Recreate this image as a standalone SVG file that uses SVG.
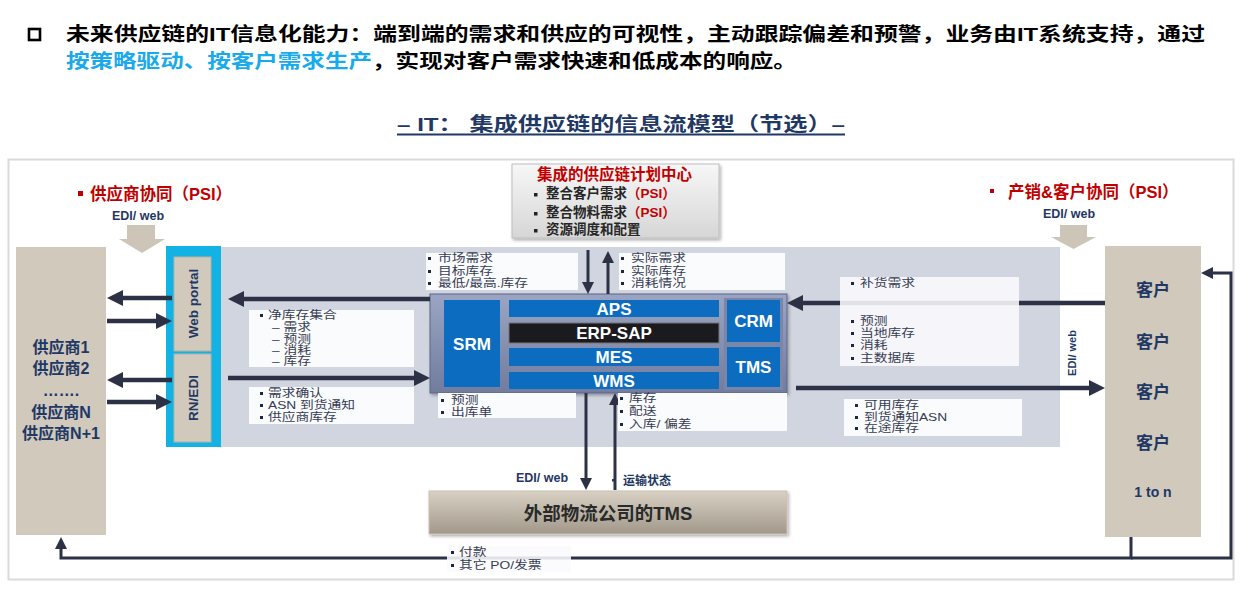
<svg xmlns="http://www.w3.org/2000/svg" width="1254" height="593" viewBox="0 0 1254 593">
<style>
text{font-family:"Liberation Sans","Noto Sans CJK SC",sans-serif}
.b{font-weight:bold}
.nv{fill:#1F3864}
.red{fill:#C00000}
.wt{fill:#fff;font-weight:bold;font-size:17px;text-anchor:middle}
.lb{font-size:11px;fill:#363C52}
.lbox{fill:#FAFBFD}
.lboxt{fill:#FAFBFD;fill-opacity:.88}
.bl{fill:#1E2740}
.conn{fill:none;stroke:#2C3145}
.thick{stroke-width:4.5}
.thin{stroke-width:3}
.blue{fill:#0C6CBF}
.beige{fill:#D0C9BC}
.edi{font-size:12.5px;font-weight:bold;fill:#1F3864}
</style>
<defs>
<marker id="ah" markerUnits="userSpaceOnUse" markerWidth="16" markerHeight="16" viewBox="0 0 16 16" refX="1" refY="8" orient="auto"><path d="M0,0 L16,8 L0,16 z" fill="#2C3145"/></marker>
<marker id="as" markerUnits="userSpaceOnUse" markerWidth="12" markerHeight="12" viewBox="0 0 12 12" refX="1" refY="6" orient="auto"><path d="M0,0 L12,6 L0,12 z" fill="#2C3145"/></marker>
<linearGradient id="gcore" x1="0" y1="0" x2="0" y2="1"><stop offset="0" stop-color="#9BA5C3"/><stop offset="1" stop-color="#717C9E"/></linearGradient>
<linearGradient id="gplan" x1="0" y1="0" x2="0" y2="1"><stop offset="0" stop-color="#F7F7F7"/><stop offset="1" stop-color="#D6D6D6"/></linearGradient>
<linearGradient id="gtms" x1="0" y1="0" x2="0" y2="1"><stop offset="0" stop-color="#D8D1C3"/><stop offset="1" stop-color="#A1988A"/></linearGradient>
<filter id="sh" x="-5%" y="-10%" width="115%" height="130%"><feDropShadow dx="1.5" dy="2" stdDeviation="1.5" flood-color="#000" flood-opacity=".3"/></filter>
</defs>
<rect width="1254" height="593" fill="#fff"/>

<g id="header">
<rect x="29" y="29" width="11" height="11" fill="none" stroke="#000" stroke-width="2.6"/>
<text x="66" y="41" class="b" font-size="19" fill="#000" textLength="1139" lengthAdjust="spacingAndGlyphs">未来供应链的IT信息化能力：端到端的需求和供应的可视性，主动跟踪偏差和预警，业务由IT系统支持，通过</text>
<text x="66" y="68" class="b" font-size="19" fill="#19AAEA" textLength="306" lengthAdjust="spacingAndGlyphs">按策略驱动、按客户需求生产</text>
<text x="372" y="68" class="b" font-size="19" fill="#000" textLength="425" lengthAdjust="spacingAndGlyphs">，实现对客户需求快速和低成本的响应。</text>
<text x="397" y="131" class="b nv" font-size="19" textLength="448" lengthAdjust="spacingAndGlyphs">– IT： 集成供应链的信息流模型（节选）–</text>
<line x1="397" y1="134.5" x2="845" y2="134.5" stroke="#1F3864" stroke-width="2"/>
</g>

<rect id="frame" x="8.5" y="159.5" width="1225" height="420" fill="none" stroke="#DADADA" stroke-width="2"/>

<g id="band"><rect x="221" y="247" width="839" height="200" fill="#D1D5E0"/></g>

<g id="supplier-collab">
<rect x="78" y="191" width="5" height="5" fill="#C00000"/>
<text x="90" y="199.5" class="b red" font-size="16.5">供应商协同（PSI）</text>
<text x="112" y="220" class="edi">EDI/ web</text>
<polygon points="127,225 155,225 155,239 165,239 142,253 119,239 127,239" fill="#CCC5B8"/>
</g>

<g id="customer-collab">
<rect x="990" y="189" width="4" height="4" fill="#C00000"/>
<text x="1008" y="197.5" class="b red" font-size="16.5">产销&amp;客户协同（PSI）</text>
<text x="1043" y="218" class="edi">EDI/ web</text>
<polygon points="1060,225 1087,225 1087,237 1096,237 1073.5,249 1051,237 1060,237" fill="#CCC5B8"/>
</g>

<g id="suppliers">
<rect x="16" y="247" width="90" height="288" class="beige"/>
<g class="b nv" font-size="16" text-anchor="middle">
<text x="61" y="353">供应商1</text>
<text x="61" y="374">供应商2</text>
<text x="61" y="396" font-family="Liberation Sans">…….</text>
<text x="61" y="418">供应商N</text>
<text x="61" y="439">供应商N+1</text>
</g>
</g>

<g id="portal">
<rect x="166" y="246" width="55" height="201" fill="#12B2E4"/>
<rect x="174" y="257" width="37" height="94" class="beige" stroke="#B9B1A2"/>
<rect x="174" y="354" width="37" height="88" class="beige" stroke="#B9B1A2"/>
<text transform="translate(192.5,303.5) rotate(-90)" text-anchor="middle" dy="5" class="b nv" font-size="13.5">Web portal</text>
<text transform="translate(192.5,398) rotate(-90)" text-anchor="middle" dy="5" class="b nv" font-size="13.5">RN/EDI</text>
</g>

<g id="plan-center" filter="url(#sh)">
<rect x="512" y="164" width="207" height="74" fill="url(#gplan)" stroke="#BDBDBD"/>
</g>
<g id="plan-center-text">
<text x="614.5" y="180" text-anchor="middle" class="b red" font-size="15.5">集成的供应链计划中心</text>
<rect x="534" y="193" width="3.5" height="3.5" fill="#222"/>
<rect x="534" y="212" width="3.5" height="3.5" fill="#222"/>
<rect x="534" y="229" width="3.5" height="3.5" fill="#222"/>
<g class="b" font-size="13.5" fill="#262626">
<text x="546" y="198">整合客户需求<tspan class="red">（PSI）</tspan></text>
<text x="546" y="217">整合物料需求<tspan class="red">（PSI）</tspan></text>
<text x="546" y="234">资源调度和配置</text>
</g>
</g>

<g id="core" filter="url(#sh)">
<rect x="430" y="294" width="357" height="99" fill="url(#gcore)" stroke="#5B6688"/>
</g>
<g id="core-modules">
<rect x="444" y="300" width="56" height="87" class="blue"/>
<text x="472" y="350" class="wt" font-size="18">SRM</text>
<rect x="509" y="300" width="210" height="17" class="blue"/>
<text x="614" y="314.5" class="wt">APS</text>
<rect x="509" y="323" width="210" height="20" fill="#1B1B1F" stroke="#777"/>
<text x="614" y="339" class="wt">ERP-SAP</text>
<rect x="509" y="348" width="210" height="18" class="blue"/>
<text x="614" y="363" class="wt">MES</text>
<rect x="509" y="372" width="210" height="17" class="blue"/>
<text x="614" y="386.5" class="wt">WMS</text>
<rect x="724" y="298" width="59" height="92" fill="#7A86A8"/>
<rect x="727" y="300" width="53" height="42" class="blue"/>
<text x="753.5" y="327" class="wt">CRM</text>
<rect x="727" y="347" width="53" height="40" class="blue"/>
<text x="753.5" y="373" class="wt">TMS</text>
</g>

<g id="customers">
<rect x="1105" y="246" width="96" height="291" class="beige"/>
<g class="b nv" font-size="17" text-anchor="middle">
<text x="1153" y="296">客户</text>
<text x="1153" y="348">客户</text>
<text x="1153" y="398">客户</text>
<text x="1153" y="449">客户</text>
<text x="1153" y="497" font-size="14">1 to n</text>
</g>
<text transform="translate(1076,353) rotate(-90)" text-anchor="middle" class="b nv" font-size="11">EDI/ web</text>
</g>

<g id="ext-tms">
<rect x="429" y="491" width="358" height="43" fill="url(#gtms)" stroke="#C9C2B4" filter="url(#sh)"/>
<text x="608" y="519.5" text-anchor="middle" class="b" font-size="18.5" fill="#2A2A2A">外部物流公司的TMS</text>
</g>

<g id="connectors">
<path id="c-core-portal" class="conn thick" d="M430,299 H243" marker-end="url(#ah)"/>
<path id="c-rnedi-core" class="conn thick" d="M228,378 H415" marker-end="url(#ah)"/>
<path id="c-portal-sup" class="conn thick" d="M172,298 H122" marker-end="url(#ah)"/>
<path id="c-sup-portal" class="conn thick" d="M107,321 H157" marker-end="url(#ah)"/>
<path id="c-rnedi-sup" class="conn thick" d="M172,380 H122" marker-end="url(#ah)"/>
<path id="c-sup-rnedi" class="conn thick" d="M107,402 H157" marker-end="url(#ah)"/>
<path id="c-cust-core" class="conn thick" d="M1105,303 H802" marker-end="url(#ah)"/>
<path id="c-core-cust" class="conn thick" d="M796,388 H1090" marker-end="url(#ah)"/>
<path id="c-plan-core" class="conn thin" d="M588,250 V283" marker-end="url(#as)"/>
<path id="c-core-plan" class="conn thin" d="M608,294 V262" marker-end="url(#as)"/>
<path id="c-core-tms" class="conn thin" d="M586,393 V479" marker-end="url(#as)"/>
<path id="c-tms-core" class="conn thin" d="M615,490 V404" marker-end="url(#as)"/>
<path id="c-pay-sup" class="conn thin" d="M1131,537 V558 H61 V548" marker-end="url(#as)"/>
<path id="c-loop-cust" class="conn thin" d="M1131,558 H1231 V273 H1212" marker-end="url(#as)"/>
</g>

<g id="labels">
<g id="lab-a">
<rect x="426" y="253" width="152" height="37" class="lbox"/>
<rect x="428" y="257" width="3" height="3" class="bl"/><rect x="428" y="270" width="3" height="3" class="bl"/><rect x="428" y="282" width="3" height="3" class="bl"/>
<text class="lb" transform="translate(438,262) scale(1.25,1)">市场需求</text>
<text class="lb" transform="translate(438,275) scale(1.25,1)">目标库存</text>
<text class="lb" transform="translate(438,287) scale(1.25,1)">最低/最高.库存</text>
</g>
<g id="lab-b">
<rect x="619" y="253" width="166" height="37" class="lbox"/>
<rect x="621" y="257" width="3" height="3" class="bl"/><rect x="621" y="270" width="3" height="3" class="bl"/><rect x="621" y="282" width="3" height="3" class="bl"/>
<text class="lb" transform="translate(631,262) scale(1.25,1)">实际需求</text>
<text class="lb" transform="translate(631,275) scale(1.25,1)">实际库存</text>
<text class="lb" transform="translate(631,287) scale(1.25,1)">消耗情况</text>
</g>
<g id="lab-c">
<rect x="249" y="310" width="165" height="57" class="lbox"/>
<rect x="260" y="314" width="3" height="3" class="bl"/>
<text class="lb" transform="translate(268,319) scale(1.25,1)">净库存集合</text>
<text class="lb" transform="translate(272,331) scale(1.25,1)">–  需求</text>
<text class="lb" transform="translate(272,343) scale(1.25,1)">–  预测</text>
<text class="lb" transform="translate(272,354) scale(1.25,1)">–  消耗</text>
<text class="lb" transform="translate(272,365) scale(1.25,1)">–  库存</text>
</g>
<g id="lab-d">
<rect x="249" y="387" width="165" height="37" class="lbox"/>
<rect x="260" y="392" width="3" height="3" class="bl"/><rect x="260" y="404" width="3" height="3" class="bl"/><rect x="260" y="416" width="3" height="3" class="bl"/>
<text class="lb" transform="translate(268,397) scale(1.25,1)">需求确认</text>
<text class="lb" transform="translate(268,409) scale(1.25,1)">ASN 到货通知</text>
<text class="lb" transform="translate(268,421) scale(1.25,1)">供应商库存</text>
</g>
<g id="lab-e">
<rect x="438" y="393" width="138" height="25" class="lbox"/>
<rect x="441" y="399" width="3" height="3" class="bl"/><rect x="441" y="411" width="3" height="3" class="bl"/>
<text class="lb" transform="translate(451,404) scale(1.25,1)">预测</text>
<text class="lb" transform="translate(451,416) scale(1.25,1)">出库单</text>
</g>
<g id="lab-f">
<rect x="618" y="393" width="169" height="38" class="lbox"/>
<rect x="620" y="397" width="3" height="3" class="bl"/><rect x="620" y="410" width="3" height="3" class="bl"/><rect x="620" y="423" width="3" height="3" class="bl"/>
<text class="lb" transform="translate(629,402) scale(1.25,1)">库存</text>
<text class="lb" transform="translate(629,415) scale(1.25,1)">配送</text>
<text class="lb" transform="translate(629,428) scale(1.25,1)">入库/ 偏差</text>
</g>
<g id="lab-g">
<rect x="840" y="277" width="179" height="89" class="lboxt"/>
<rect x="851" y="282" width="3" height="3" class="bl"/><rect x="851" y="320" width="3" height="3" class="bl"/><rect x="851" y="332" width="3" height="3" class="bl"/><rect x="851" y="344" width="3" height="3" class="bl"/><rect x="851" y="357" width="3" height="3" class="bl"/>
<text class="lb" transform="translate(860,287) scale(1.25,1)">补货需求</text>
<text class="lb" transform="translate(860,325) scale(1.25,1)">预测</text>
<text class="lb" transform="translate(860,337) scale(1.25,1)">当地库存</text>
<text class="lb" transform="translate(860,349) scale(1.25,1)">消耗</text>
<text class="lb" transform="translate(860,362) scale(1.25,1)">主数据库</text>
</g>
<g id="lab-h">
<rect x="844" y="399" width="178" height="37" class="lbox"/>
<rect x="855" y="404" width="3" height="3" class="bl"/><rect x="855" y="416" width="3" height="3" class="bl"/><rect x="855" y="427" width="3" height="3" class="bl"/>
<text class="lb" transform="translate(864,409) scale(1.25,1)">可用库存</text>
<text class="lb" transform="translate(864,421) scale(1.25,1)">到货通知ASN</text>
<text class="lb" transform="translate(864,432) scale(1.25,1)">在途库存</text>
</g>
<g id="lab-i">
<rect x="447" y="546" width="124" height="26" class="lboxt"/>
<rect x="451" y="551" width="3" height="3" class="bl"/><rect x="451" y="564" width="3" height="3" class="bl"/>
<text class="lb" transform="translate(459,556) scale(1.25,1)">付款</text>
<text class="lb" transform="translate(459,569) scale(1.25,1)">其它 PO/发票</text>
</g>
<g id="lab-edi-bottom">
<text x="516" y="481.5" class="edi">EDI/ web</text>
</g>
<g id="lab-transport">
<rect x="618" y="474" width="68" height="13" fill="#fff"/>
<rect x="612" y="479" width="2.5" height="2.5" fill="#1F3864"/>
<text x="623" y="484.5" class="b nv" font-size="12">运输状态</text>
</g>
</g>
</svg>
